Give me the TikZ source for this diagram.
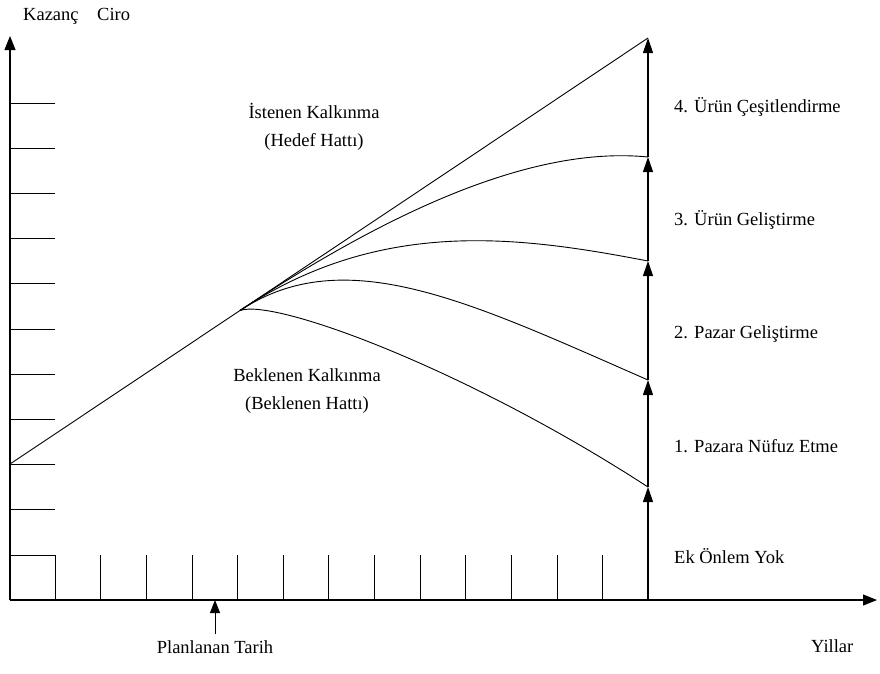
\documentclass[tikz,border=0pt]{standalone}
\usepackage{fontspec}
\setmainfont{Liberation Serif}
\usetikzlibrary{arrows.meta}
\tikzset{
  axis/.style={line width=1.1pt, -{Triangle[length=14pt,width=11pt]}},
  gridtick/.style={line width=0.9pt},
  trend/.style={line width=0.9pt},
  lift/.style={line width=1.1pt, -{Triangle[length=15pt,width=10pt]}},
  lbl/.style={font=\fontsize{18.5}{28}\selectfont, inner sep=0pt, anchor=base west},
}

\begin{document}
\begin{tikzpicture}[x=1pt, y=-1pt]
  \useasboundingbox (0,0) rectangle (880,673);
  \coordinate (o) at (10,600); \coordinate (ytop) at (10,36); \coordinate (xend) at (877,600);
  \draw[axis] (o) -- (ytop);
  \draw[axis] (o) -- (xend);
  % Olcek cizgileri
  \foreach \k in {0,...,10} \draw[gridtick] (10,555-45.2*\k) -- (55,555-45.2*\k);
  \foreach \k in {0,...,12} \draw[gridtick] (55+45.65*\k,555) -- (55+45.65*\k,600);
  % Hatlar
  \coordinate (start) at (10,464); \coordinate (split) at (240,310.5);
  \coordinate (base) at (648,600); \coordinate (e0) at (648,487); \coordinate (e1) at (648,380);
  \coordinate (e2) at (648,261); \coordinate (e3) at (648,157); \coordinate (e4) at (648,38);
  \draw[trend] (split) -- (e4);
  \draw[trend] (start) -- (split);
  \draw[trend] (split) .. controls (275,298) and (468,370) .. (e0);
  \draw[trend] (split) .. controls (345,241) and (470,302) .. (e1);
  \draw[trend] (split) .. controls (380,217.5) and (518,236) .. (e2);
  \draw[trend] (split) .. controls (380,217.5) and (528,145) .. (e3);
  \draw[lift] (base) -- (e0);
  \draw[lift] (e0) -- (e1);
  \draw[lift] (e1) -- (e2);
  \draw[lift] (e2) -- (e3);
  \draw[lift] (e3) -- (e4);
  % Yazilar
  \node[lbl] (kazanc) at (23,20) {Kazanç\quad Ciro};
  \node[lbl] (s4) at (674,112) {4. Ürün Çeşitlendirme};
  \node[lbl] (s3) at (674,225) {3. Ürün Geliştirme};
  \node[lbl] (s2) at (674,338) {2. Pazar Geliştirme};
  \node[lbl] (s1) at (674,452) {1. Pazara Nüfuz Etme};
  \node[lbl] (s0) at (674,563) {Ek Önlem Yok};
  \node[lbl] (yillar) at (811,652) {Yillar};
  \node[lbl, anchor=center, align=center] (hedef) at (314,127) {İstenen Kalkınma\\(Hedef Hattı)};
  \node[lbl, anchor=center, align=center] (beklenen) at (307,391) {Beklenen Kalkınma\\(Beklenen Hattı)};
  \node[lbl, anchor=base] (plan) at (215,653) {Planlanan Tarih};
  \coordinate (plandate) at (215,600);
  \draw[line width=1pt, -{Triangle[length=13pt,width=10pt]}] ([yshift=6pt]plan.north) -- (plandate);
\end{tikzpicture}
\end{document}
